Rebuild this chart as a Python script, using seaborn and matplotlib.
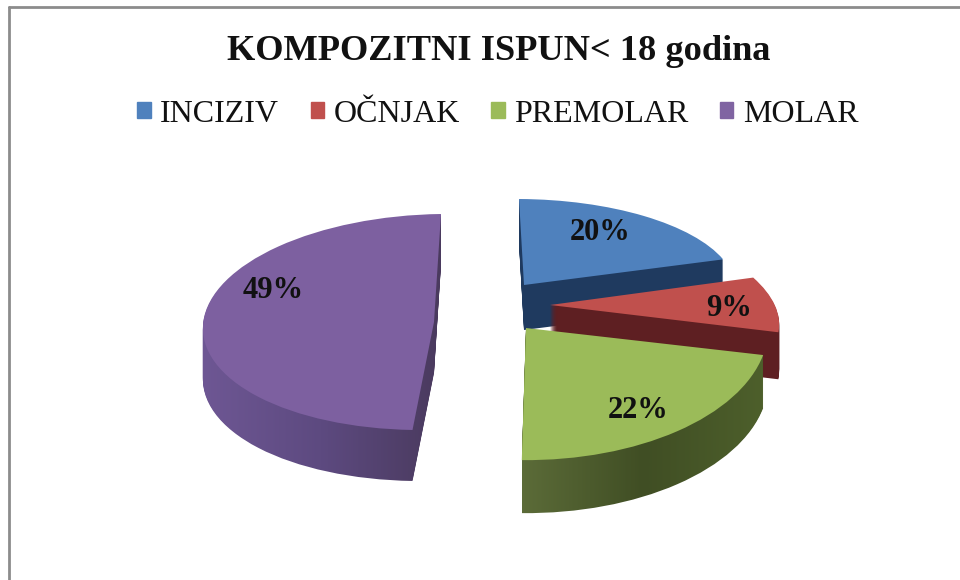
import numpy as np
import matplotlib
matplotlib.use('Agg')
import matplotlib.pyplot as plt
from matplotlib.colors import LinearSegmentedColormap
from matplotlib.transforms import Affine2D
import seaborn as sns

categories = ['INCIZIV', 'OČNJAK', 'PREMOLAR', 'MOLAR']
values = [20, 9, 22, 49]

sns.set_theme(style='white')
plt.rcParams['font.family'] = ['Liberation Serif', 'DejaVu Serif']

top_colors = sns.color_palette(['#4f81bd', '#c0504d', '#9bbb59', '#7d60a0'])
legend_colors = sns.color_palette(['#4f81bd', '#c0504d', '#9bbb59', '#8064a2'])
wall_colors = [['#1f3a5f', '#1f3a5f'],
               ['#5e1f22', '#5e1f22'],
               ['#5b6b38', '#404e24', '#4d5f2b'],
               ['#6e5794', '#5d4a80', '#4a3a5e']]

# each slice has its own projection: unit pie -> picture pixels (fake perspective)
# matrix a, b, c, d + apex x, y + depth of the side wall
geom = [(211, -5, -1, 86, 524, 285, 45),
        (226, -38, -3, 98, 550, 305, 47),
        (242, -11, 6, 132, 526, 328, 53),
        (231, 7, 3, 108, 434, 322, 51)]
label_pos = [(600, 233), (729, 308), (638, 410), (273, 291)]
draw_order = [3, 0, 1, 2]

fig = plt.figure(figsize=(9.6, 5.8), dpi=100)
ax = fig.add_axes([0, 0, 1, 1])


def slice_transform(i, drop=0):
    a, b, c, d, x0, y0, _ = geom[i]
    m = np.array([[a, b, x0], [-c, -d, y0 + drop], [0, 0, 1]], dtype=float)
    return Affine2D(m)


z = 2
grad = np.linspace(0, 1, 64).reshape(1, -1)
for i in draw_order:
    depth = geom[i][6]
    cmap = LinearSegmentedColormap.from_list('wall', wall_colors[i])
    xmin, xmax = None, None
    for k in range(depth, 0, -1):
        layer = ax.pie(values, startangle=90, counterclock=False, colors=top_colors)[0]
        for j, w in enumerate(layer):
            if j != i:
                w.remove()
                continue
            if xmin is None:
                # extent of the wall gradient, from the slice itself
                pts = slice_transform(i).transform(w.get_path().vertices)
                xmin, xmax = pts[:, 0].min(), pts[:, 0].max()
            w.set_transform(slice_transform(i, k) + ax.transData)
            w.set_linewidth(0)
            w.set_zorder(z)
            im = ax.imshow(grad, cmap=cmap, extent=(xmin, xmax, 0, 580), aspect='auto',
                           interpolation='bilinear', zorder=z)
            im.set_clip_path(w)
            w.set_visible(False)
    z += 1
    top = ax.pie(values, startangle=90, counterclock=False, colors=top_colors)[0]
    for j, w in enumerate(top):
        if j != i:
            w.remove()
            continue
        w.set_transform(slice_transform(i) + ax.transData)
        w.set_linewidth(0)
        w.set_zorder(z)
    z += 1

for v, (x, y) in zip(values, label_pos):
    ax.text(x, y, f'{v}%', ha='center', va='center', fontsize=22, fontweight='bold',
            color='#111111', zorder=z)

ax.set_aspect('auto')
ax.set_xlim(0, 960)
ax.set_ylim(580, 0)
ax.axis('off')

# frame of the pasted chart
ax.plot([9, 9], [580, 7], color='#8c8c8c', lw=2, zorder=1)
ax.plot([9, 960], [7, 7], color='#8c8c8c', lw=2, zorder=1)

ax.text(499, 52, 'KOMPOZITNI ISPUN< 18 godina', ha='center', va='center',
        fontsize=26.2, fontweight='bold', color='#111111')

handles = [plt.Rectangle((0, 0), 1, 1, color=c) for c in legend_colors]
ax.legend(handles, categories, ncol=4, loc='center', bbox_to_anchor=(498 / 960, 1 - 114 / 580),
          frameon=False, fontsize=23, handlelength=0.42, handleheight=0.42, handletextpad=0.3,
          columnspacing=0.98, labelcolor='#111111')

fig.savefig('out.png', dpi=100)
